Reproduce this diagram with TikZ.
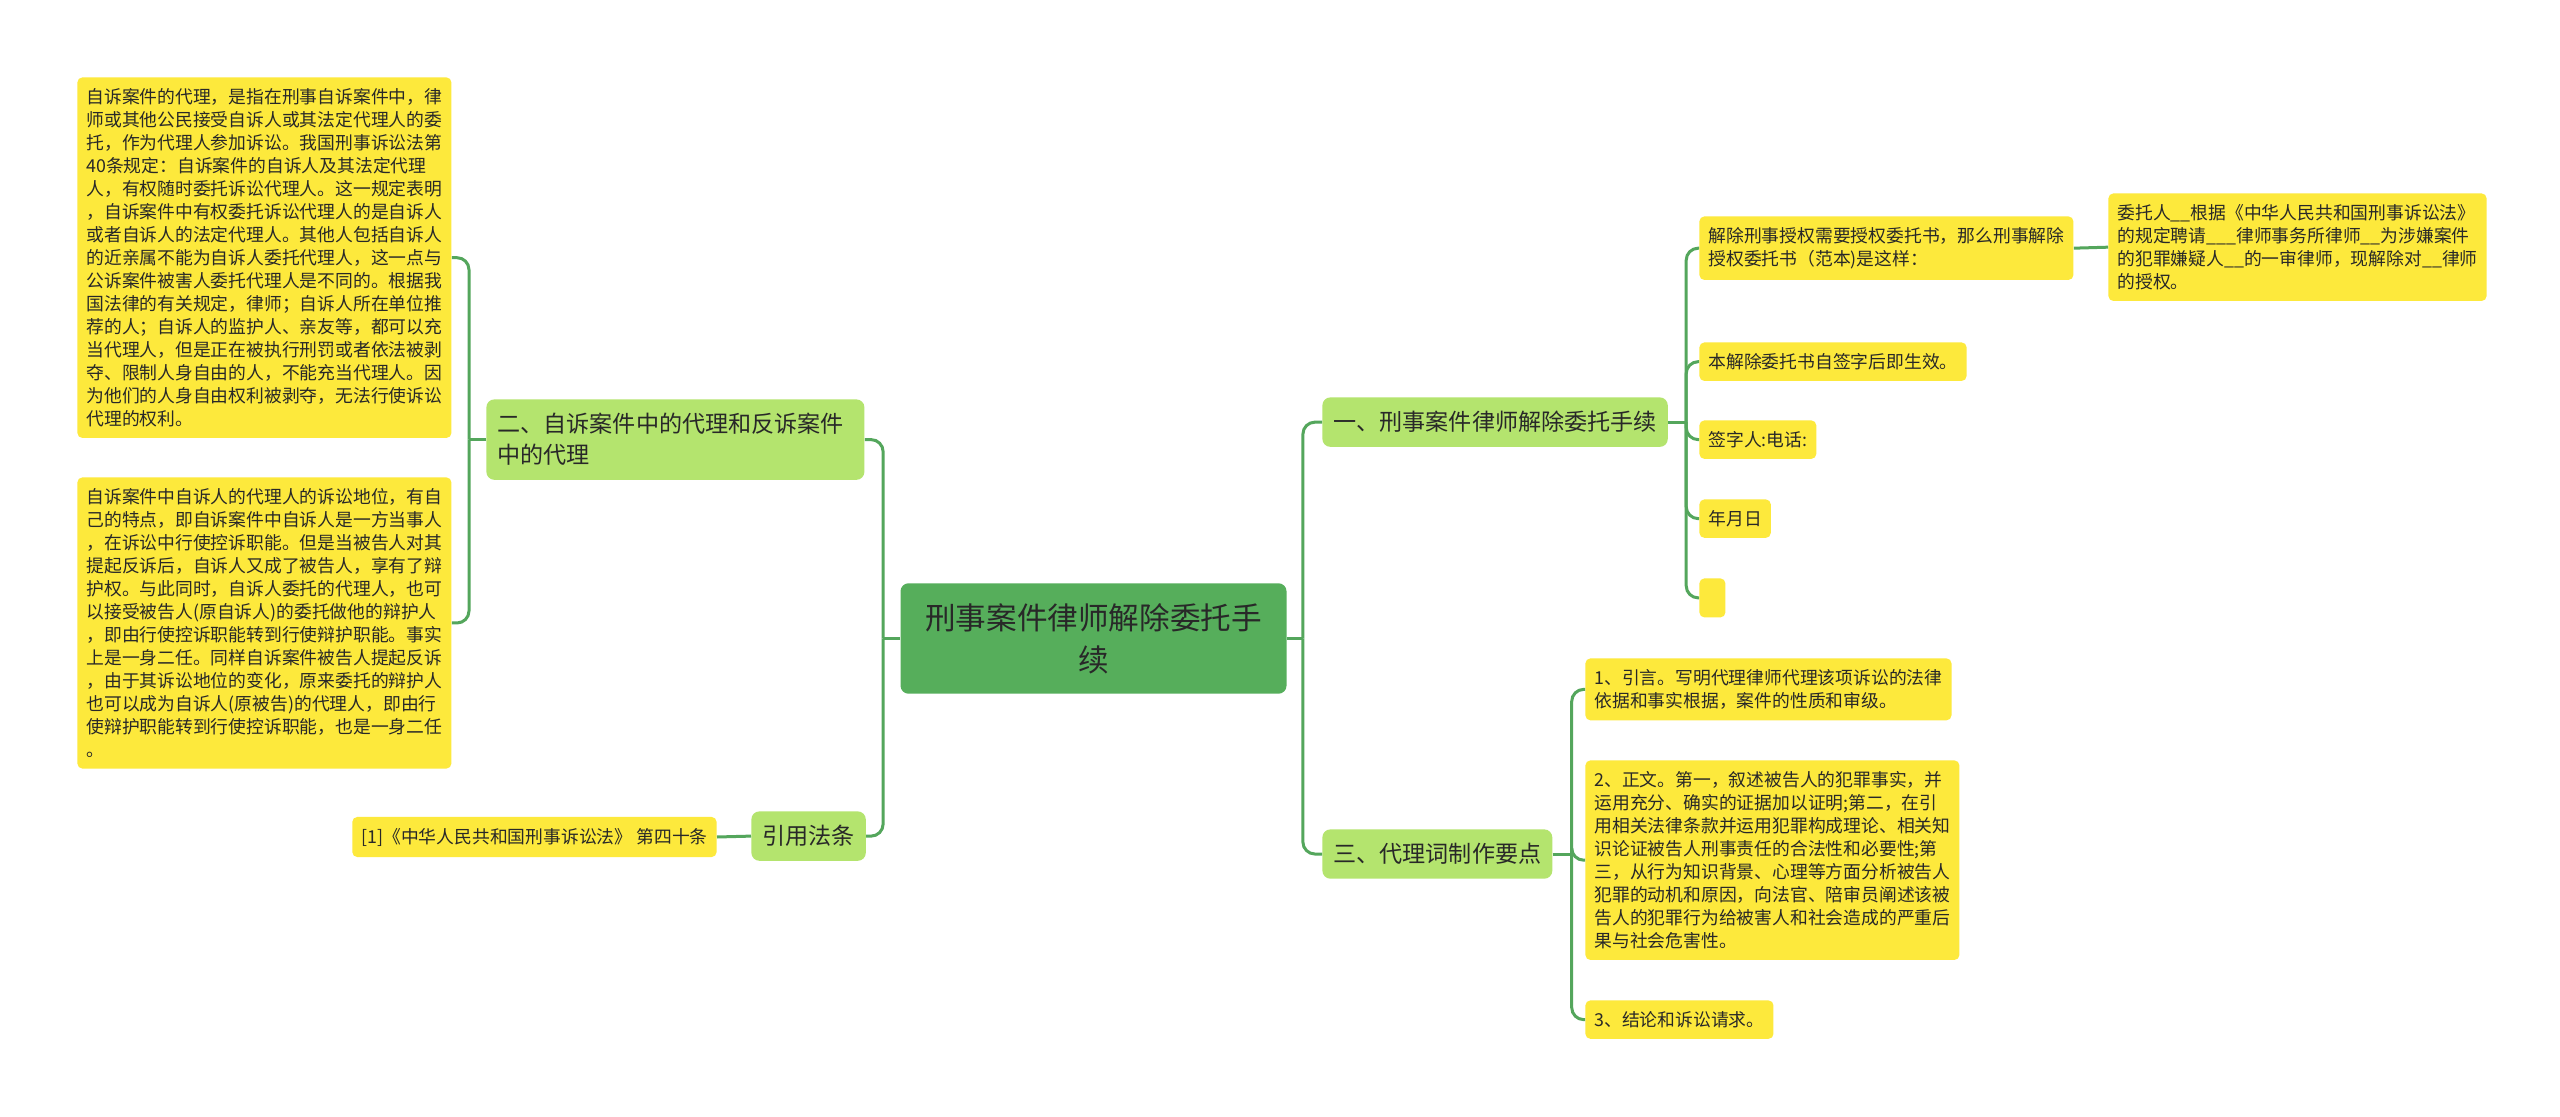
\documentclass[tikz,border=0pt]{standalone}
\usepackage{fontspec}
\setmainfont{Noto Sans CJK SC}
\usepackage{xcolor}
\usepackage{tikz}

\definecolor{rootgreen}{RGB}{86,174,91}
\definecolor{topicgreen}{RGB}{180,228,110}
\definecolor{leafyellow}{RGB}{253,233,60}
\definecolor{linegreen}{RGB}{84,166,92}
\definecolor{inkgray}{RGB}{40,40,40}

\begin{document}
\begin{tikzpicture}[
  x=0.5pt, y=-0.5pt,
  every node/.style={text=inkgray},
  rootnode/.style={fill=rootgreen, rounded corners=4pt, align=center, text width=173pt,
    inner xsep=10pt, inner ysep=10pt, font=\fontsize{15.3}{21}\selectfont},
  topic/.style={fill=topicgreen, rounded corners=4pt, align=left, anchor=north west,
    inner xsep=5.5pt, inner ysep=7pt, font=\fontsize{11.55}{15.5}\selectfont},
  leaf/.style={fill=leafyellow, rounded corners=2.5pt, align=left, anchor=north west,
    inner xsep=4.5pt, inner ysep=5.5pt, font=\fontsize{8.9}{11.5}\selectfont},
  link/.style={draw=linegreen, line width=1.5pt, rounded corners=6pt}
]
\fill[white] (0,0) rectangle (2560,1117);
\useasboundingbox (0,0) rectangle (2560,1117);

% centre
\node[rootnode] (root) at (1093.5,638.5) {刑事案件律师解除委托手\\续};

% right side
\node[topic] (t1) at (1322,397) {一、刑事案件律师解除委托手续};
\node[topic] (t3) at (1322,829) {三、代理词制作要点};

\node[leaf] (a1) at (1699,216) {解除刑事授权需要授权委托书，那么刑事解除\\授权委托书（范本)是这样：};
\node[leaf] (a11) at (2108,193) {委托人\_\_根据《中华人民共和国刑事诉讼法》\\的规定聘请\_\_\_律师事务所律师\_\_为涉嫌案件\\的犯罪嫌疑人\_\_的一审律师，现解除对\_\_律师\\的授权。};
\node[leaf] (a2) at (1699,342) {本解除委托书自签字后即生效。};
\node[leaf] (a3) at (1699,420) {签字人:电话:};
\node[leaf] (a4) at (1699,499) {年月日};
\node[leaf, minimum width=13pt, minimum height=19.5pt] (a5) at (1699,578) {};

\node[leaf] (c1) at (1585,658) {1、引言。写明代理律师代理该项诉讼的法律\\依据和事实根据，案件的性质和审级。};
\node[leaf] (c2) at (1585,760) {2、正文。第一，叙述被告人的犯罪事实，并\\运用充分、确实的证据加以证明;第二，在引\\用相关法律条款并运用犯罪构成理论、相关知\\识论证被告人刑事责任的合法性和必要性;第\\三，从行为知识背景、心理等方面分析被告人\\犯罪的动机和原因，向法官、陪审员阐述该被\\告人的犯罪行为给被害人和社会造成的严重后\\果与社会危害性。};
\node[leaf] (c3) at (1585,1000) {3、结论和诉讼请求。};

% left side
\node[topic, text width=178pt] (t2) at (486,399) {二、自诉案件中的代理和反诉案件\\中的代理};
\node[topic] (t4) at (751,811) {引用法条};

\node[leaf] (b1) at (77,77) {自诉案件的代理，是指在刑事自诉案件中，律\\师或其他公民接受自诉人或其法定代理人的委\\托，作为代理人参加诉讼。我国刑事诉讼法第\\40条规定：自诉案件的自诉人及其法定代理\\人，有权随时委托诉讼代理人。这一规定表明\\，自诉案件中有权委托诉讼代理人的是自诉人\\或者自诉人的法定代理人。其他人包括自诉人\\的近亲属不能为自诉人委托代理人，这一点与\\公诉案件被害人委托代理人是不同的。根据我\\国法律的有关规定，律师；自诉人所在单位推\\荐的人；自诉人的监护人、亲友等，都可以充\\当代理人，但是正在被执行刑罚或者依法被剥\\夺、限制人身自由的人，不能充当代理人。因\\为他们的人身自由权利被剥夺，无法行使诉讼\\代理的权利。};
\node[leaf] (b2) at (77,477) {自诉案件中自诉人的代理人的诉讼地位，有自\\己的特点，即自诉案件中自诉人是一方当事人\\，在诉讼中行使控诉职能。但是当被告人对其\\提起反诉后，自诉人又成了被告人，享有了辩\\护权。与此同时，自诉人委托的代理人，也可\\以接受被告人(原自诉人)的委托做他的辩护人\\，即由行使控诉职能转到行使辩护职能。事实\\上是一身二任。同样自诉案件被告人提起反诉\\，由于其诉讼地位的变化，原来委托的辩护人\\也可以成为自诉人(原被告)的代理人，即由行\\使辩护职能转到行使控诉职能，也是一身二任\\。};
\node[leaf, anchor=east] (d1) at (717,837) {[1]《中华人民共和国刑事诉讼法》 第四十条};

% connectors
\coordinate (jr) at ([xshift=8pt]root.east);
\coordinate (jl) at ([xshift=-8.5pt]root.west);
\coordinate (j1) at ([xshift=9pt]t1.east);
\coordinate (j3) at ([xshift=9.5pt]t3.east);
\coordinate (j2) at ([xshift=-8.5pt]t2.west);

\draw[link] (root.east) -- (jr);
\foreach \c in {t1,t3} \draw[link] (jr) |- (\c.west);
\draw[link] (root.west) -- (jl);
\foreach \c in {t2,t4} \draw[link] (jl) |- (\c.east);

\draw[link] (t1.east) -- (j1);
\foreach \c in {a1,a2,a3,a4,a5} \draw[link] (j1) |- (\c.west);
\draw[link] (a1.east) -- (a11.west);

\draw[link] (t3.east) -- (j3);
\foreach \c in {c1,c2,c3} \draw[link] (j3) |- (\c.west);

\draw[link] (t2.west) -- (j2);
\foreach \c in {b1,b2} \draw[link] (j2) |- (\c.east);
\draw[link] (t4.west) -- (d1.east);
\end{tikzpicture}
\end{document}
